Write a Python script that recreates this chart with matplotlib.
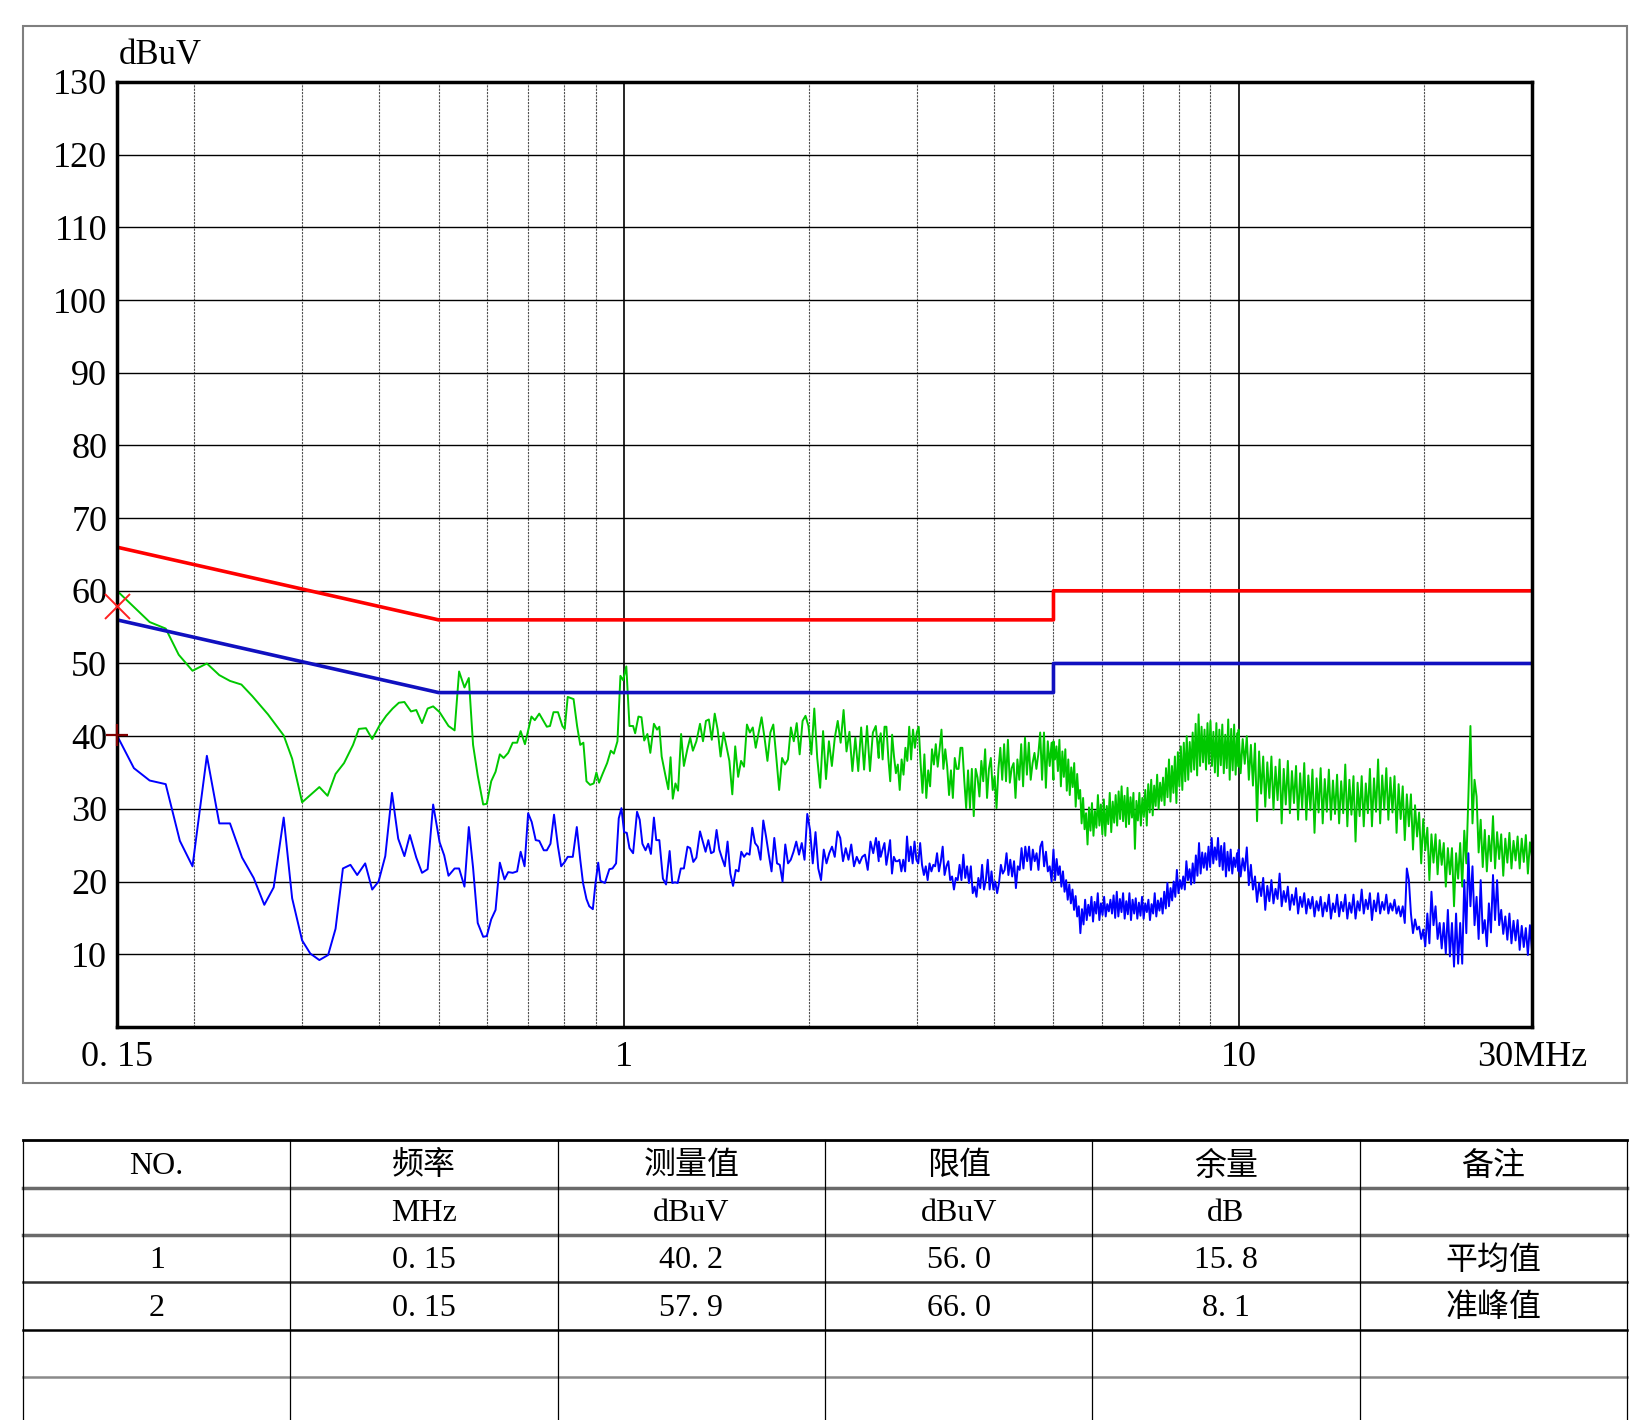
import numpy as np
import matplotlib
matplotlib.use("Agg")
import matplotlib.pyplot as plt
from matplotlib.lines import Line2D
from matplotlib.ticker import LogLocator, NullFormatter

plt.rcParams["font.family"] = ["Liberation Serif", "Noto Sans CJK SC"]

# ---- limit lines (MHz, dBuV) ----
LIMIT_FREQ = [0.15, 0.5, 5.0, 5.0, 30.0]
QP_LIMIT = [66, 56, 56, 60, 60]
AV_LIMIT = [56, 46, 46, 50, 50]

# ---- final measurement markers ----
QP_MARK = (0.15, 57.9)
AV_MARK = (0.15, 40.2)

# ---- peak (green) scan, 0.15 - 1.33 MHz, read point by point ----
PK_FREQ_LOW = [0.150, 0.1695, 0.180, 0.189, 0.199, 0.210, 0.220, 0.229, 0.239, 0.249,
               0.264, 0.280, 0.289, 0.300, 0.320, 0.330, 0.340, 0.351, 0.363, 0.371,
               0.381, 0.390, 0.401, 0.411, 0.421, 0.431, 0.440, 0.451, 0.460, 0.470,
               0.480, 0.490, 0.502, 0.519, 0.531, 0.540, 0.551, 0.560, 0.569, 0.579,
               0.591, 0.599, 0.609, 0.619, 0.629, 0.638, 0.649, 0.660, 0.671, 0.680,
               0.691, 0.708, 0.717, 0.729, 0.750, 0.759, 0.769, 0.782, 0.795, 0.802,
               0.811, 0.829, 0.840, 0.850, 0.860, 0.870, 0.882, 0.894, 0.903, 0.912,
               0.924, 0.940, 0.953, 0.964, 0.977, 0.988, 0.998, 1.010, 1.022, 1.036,
               1.044, 1.057, 1.069, 1.080, 1.093, 1.105, 1.120, 1.133, 1.143, 1.153,
               1.168, 1.182, 1.192, 1.202, 1.214, 1.226, 1.240, 1.253, 1.270, 1.283,
               1.296, 1.313, 1.331]
PK_LEVEL_LOW = [60.0, 55.7, 54.8, 51.2, 49.0, 50.0, 48.4, 47.6, 47.1, 45.5,
                43.0, 40.1, 36.9, 30.9, 33.0, 31.8, 34.8, 36.3, 38.8, 41.0,
                41.1, 39.6, 41.5, 42.8, 43.8, 44.6, 44.7, 43.4, 43.6, 41.8,
                43.8, 44.1, 43.3, 41.4, 40.8, 48.9, 46.7, 48.0, 38.8, 34.6,
                30.6, 30.7, 33.8, 35.1, 37.5, 37.0, 37.7, 39.1, 39.1, 40.7,
                38.9, 42.7, 42.2, 43.1, 41.3, 41.4, 43.3, 43.3, 41.4, 41.0,
                45.4, 45.1, 41.4, 38.8, 39.1, 33.8, 33.3, 33.5, 35.0, 33.6,
                34.8, 36.3, 38.0, 37.6, 39.3, 48.3, 47.7, 49.6, 41.4, 41.4,
                40.4, 42.7, 42.6, 39.4, 40.3, 37.7, 41.7, 40.9, 41.3, 37.2,
                34.8, 32.7, 37.1, 31.4, 33.5, 32.5, 40.3, 35.9, 38.3, 39.8,
                38.0, 39.3, 41.7]

# ---- average (blue) scan, 0.15 - 1.33 MHz ----
AV_FREQ_LOW = [0.150, 0.1598, 0.1695, 0.180, 0.1898, 0.199, 0.210, 0.220, 0.229, 0.2396,
               0.2502, 0.2604, 0.2697, 0.280, 0.289, 0.300, 0.3093, 0.320, 0.3307, 0.340,
               0.3495, 0.3595, 0.3687, 0.3799, 0.390, 0.3994, 0.4096, 0.4200, 0.4299, 0.440,
               0.4491, 0.460, 0.470, 0.480, 0.490, 0.502, 0.5107, 0.519, 0.531, 0.540,
               0.551, 0.560, 0.569, 0.579, 0.591, 0.599, 0.609, 0.619, 0.629, 0.640,
               0.649, 0.660, 0.671, 0.680, 0.690, 0.6993, 0.7087, 0.7194, 0.729, 0.7415,
               0.750, 0.7603, 0.7705, 0.782, 0.7914, 0.802, 0.811, 0.8266, 0.8391, 0.850,
               0.8589, 0.870, 0.8792, 0.8910, 0.9000, 0.9091, 0.9167, 0.9322, 0.9479, 0.9591,
               0.9720, 0.9818, 0.9917, 1.0017, 1.0118, 1.022, 1.036, 1.0514, 1.0620, 1.0727,
               1.0854, 1.0963, 1.1074, 1.120, 1.1298, 1.143, 1.1584, 1.1721, 1.1879, 1.1998,
               1.2119, 1.2242, 1.2386, 1.253, 1.270, 1.283, 1.2980, 1.313, 1.331]
AV_LEVEL_LOW = [40.1, 35.6, 33.9, 33.4, 25.6, 22.1, 37.3, 28.0, 28.0, 23.3,
                20.5, 16.8, 19.2, 28.8, 17.7, 11.9, 10.1, 9.2, 9.9, 13.5,
                21.8, 22.3, 20.9, 22.5, 18.9, 20.0, 23.5, 32.2, 25.9, 23.5,
                26.4, 23.3, 21.2, 21.7, 30.6, 25.4, 23.6, 20.8, 21.8, 21.8,
                19.3, 27.5, 21.9, 14.3, 12.4, 12.5, 14.8, 16.1, 22.6, 20.3,
                21.3, 21.2, 21.4, 24.1, 22.1, 29.4, 28.2, 25.7, 25.6, 24.3,
                24.3, 25.2, 29.2, 24.8, 22.1, 22.7, 23.4, 23.4, 27.5, 23.0,
                19.8, 17.6, 16.6, 16.2, 19.8, 22.6, 20.1, 19.8, 21.7, 21.8,
                22.5, 28.7, 30.1, 26.8, 26.7, 24.6, 23.9, 29.6, 28.5, 25.2,
                24.3, 25.2, 23.8, 28.8, 25.7, 25.7, 20.4, 19.6, 24.2, 19.8,
                19.9, 19.8, 21.8, 21.8, 24.8, 24.6, 22.7, 23.3, 26.9]

# ---- higher bands: levels read along each sweep (start MHz, stop MHz) ----
PK_BAND_1 = (1.346, 2.599)
PK_LEVEL_1 = [39.3, 42.1, 42.3, 39.5, 43.1, 40.9, 37.2, 40.5, 38.6, 36.6,
              32.0, 38.6, 34.4, 36.6, 35.8, 41.6, 40.5, 41.2, 38.4, 40.5,
              42.6, 39.8, 36.6, 40.5, 41.6, 37.2, 32.6, 37.0, 36.1, 36.8,
              41.2, 39.3, 41.8, 37.5, 42.1, 42.8, 41.4, 37.5, 43.8, 37.0,
              32.9, 40.7, 34.1, 39.3, 35.9, 39.8, 42.1, 39.1, 43.6, 37.9,
              40.6, 35.2, 39.8, 35.2, 41.2, 35.4, 41.4, 35.2, 40.5, 41.4,
              37.0]
PK_BAND_2 = (2.60, 5.0)
PK_LEVEL_2 = [38.9, 40.4, 36.8, 41.3, 41.3, 37.0, 33.8, 40.2, 37.2, 34.9,
              36.1, 32.6, 36.8, 34.7, 38.4, 36.6, 41.3, 36.8, 40.9, 38.4,
              40.5, 41.3, 36.3, 32.2, 37.5, 31.5, 35.3, 33.1, 38.2, 36.1,
              38.9, 35.8, 38.2, 40.9, 35.5, 38.2, 35.8, 31.9, 35.3, 31.5,
              37.0, 35.5, 35.5, 38.4, 38.4, 34.0, 30.1, 35.3, 30.1, 35.5,
              29.0, 35.5, 34.3, 31.7, 36.6, 33.8, 38.2, 31.5, 35.5, 37.0,
              32.6, 34.5, 30.1, 35.5, 38.4, 34.0, 38.9, 33.8, 39.5, 33.6,
              35.6, 36.3, 31.5, 36.8, 34.0, 38.9, 33.1, 39.8, 34.7, 39.1,
              34.0, 36.3, 37.7, 35.5, 37.5, 40.5, 34.0, 40.5, 32.9, 39.3,
              35.9, 39.1, 34.0]
PK_BAND_3 = (5.0, 10.0)
PK_LEVEL_3 = [39.3, 36.8, 38.6, 35.2, 39.5, 33.1, 37.9, 34.4, 38.2, 32.5,
              36.8, 31.9, 35.7, 33.0, 36.3, 30.3, 34.8, 31.4, 32.6, 28.0,
              31.5, 27.2, 29.4, 25.1, 30.2, 27.0, 30.8, 26.3, 29.7, 27.4,
              31.9, 27.7, 30.6, 26.5, 31.3, 26.3, 30.4, 27.9, 32.2, 26.8,
              31.0, 28.1, 31.9, 27.7, 32.4, 28.6, 33.1, 28.3, 31.8, 27.5,
              32.9, 27.9, 31.6, 28.8, 32.2, 24.5, 31.1, 28.4, 32.2, 27.7,
              31.5, 28.9, 32.6, 27.7, 33.4, 29.5, 34.0, 29.1, 33.2, 30.4,
              34.7, 30.0, 33.6, 31.1, 34.3, 30.5, 35.6, 31.6, 36.8, 31.0,
              35.9, 32.2, 37.2, 30.8, 37.8, 33.1, 38.6, 32.6, 39.1, 33.8,
              40.0, 34.0, 39.2, 35.1, 40.5, 35.4, 41.7, 34.6, 43.0, 35.9,
              41.3, 36.4, 40.9, 35.4, 41.8, 36.2, 42.1, 35.9, 40.6, 35.0,
              41.8, 34.5, 40.9, 36.0, 41.6, 34.9, 40.2, 35.6, 42.3, 34.0,
              41.0, 35.3, 41.6, 34.7, 40.4, 35.8]
PK_BAND_4 = (10.0, 30.0)
PK_LEVEL_4 = [40.9, 34.9, 39.6, 36.2, 40.0, 34.0, 38.8, 33.2, 39.0, 28.3,
              37.9, 32.1, 37.2, 30.3, 36.4, 31.5, 37.2, 29.9, 35.8, 31.2,
              36.8, 28.0, 35.5, 30.6, 36.6, 29.4, 35.2, 30.8, 35.9, 28.5,
              34.9, 30.1, 36.3, 28.5, 34.6, 29.8, 35.4, 26.7, 34.2, 29.5,
              35.6, 28.0, 34.1, 29.6, 35.4, 28.5, 33.9, 29.3, 34.7, 28.0,
              33.8, 29.4, 36.1, 27.6, 34.0, 29.2, 34.5, 25.5, 33.6, 29.0,
              34.5, 27.6, 33.5, 29.4, 35.5, 27.6, 34.2, 29.6, 36.8, 28.0,
              34.6, 29.9, 35.6, 28.5, 34.3, 29.5, 34.5, 26.7, 33.4, 28.6,
              33.1, 25.7, 32.0, 27.6, 32.0, 24.4, 30.5, 26.2, 29.5, 22.5,
              28.6, 24.3, 27.4, 20.2, 26.5, 22.6, 26.5, 21.0, 25.7, 22.3,
              25.3, 19.3, 24.6, 21.0, 24.6, 16.6, 23.9, 20.4, 25.3, 19.3,
              27.0, 22.5, 31.7, 41.4, 28.0, 34.0, 31.7, 24.0, 28.5, 22.0,
              27.1, 21.4, 26.3, 22.8, 29.0, 21.8, 26.8, 23.1, 26.5, 20.8,
              25.9, 22.6, 26.7, 21.8, 25.6, 22.9, 26.2, 21.8, 25.9, 22.7,
              26.4, 21.1, 25.4, 23.4]

AV_BAND_1 = (1.359, 2.599)
AV_LEVEL_1 = [24.1, 25.7, 23.9, 24.1, 27.1, 24.4, 23.2, 22.1, 25.5, 21.1,
              19.4, 21.6, 21.4, 24.1, 23.4, 23.9, 23.7, 27.4, 25.3, 24.8,
              23.0, 28.4, 26.2, 23.7, 21.4, 26.0, 22.5, 22.3, 20.0, 25.1,
              22.5, 23.0, 24.1, 25.5, 23.7, 25.3, 23.0, 29.3, 27.1, 22.5,
              26.8, 21.8, 20.2, 24.4, 22.5, 23.9, 24.8, 23.4, 26.9, 26.0,
              22.8, 24.6, 23.0, 25.1, 22.1, 23.4, 22.5, 23.4, 23.7, 21.6,
              25.5, 23.9, 26.0, 22.8]
AV_BAND_2 = (2.60, 5.0)
AV_LEVEL_2 = [25.5, 23.4, 24.4, 25.3, 22.3, 23.9, 25.7, 21.1, 23.4, 22.8,
              22.8, 23.0, 21.4, 23.0, 21.4, 26.2, 22.8, 24.8, 22.5, 25.5,
              23.0, 22.5, 25.3, 22.3, 20.9, 22.1, 20.2, 22.5, 21.4, 22.3,
              22.1, 23.9, 21.4, 22.8, 24.8, 20.9, 22.1, 22.8, 20.2, 20.7,
              18.9, 20.5, 20.2, 22.3, 20.2, 23.7, 20.5, 22.1, 19.8, 22.1,
              18.4, 19.3, 17.9, 20.5, 19.1, 22.3, 18.9, 20.2, 23.0, 18.9,
              21.4, 18.9, 20.0, 18.4, 19.8, 22.3, 21.1, 21.6, 23.9, 20.9,
              23.0, 20.7, 22.8, 19.1, 22.1, 21.6, 24.6, 21.8, 24.8, 22.8,
              24.8, 21.6, 24.4, 22.8, 23.9, 21.6, 24.8, 25.5, 22.1, 24.1,
              21.4, 22.1, 20.0, 24.3]
AV_BAND_3 = (5.0, 10.0)
AV_LEVEL_3 = [24.4, 20.2, 23.1, 20.9, 22.1, 19.3, 21.4, 18.6, 20.2, 17.5,
              19.6, 17.0, 18.9, 16.1, 18.0, 15.2, 16.6, 12.9, 16.2, 14.1,
              17.5, 14.7, 16.8, 15.3, 17.9, 14.5, 17.2, 15.6, 18.4, 14.7,
              17.0, 15.4, 17.9, 15.2, 16.9, 15.9, 17.5, 15.6, 18.1, 15.0,
              18.6, 15.2, 17.6, 15.8, 18.4, 14.9, 17.3, 15.5, 18.4, 14.7,
              17.5, 15.6, 17.7, 14.9, 17.1, 15.3, 17.9, 14.9, 17.0, 15.8,
              17.5, 14.7, 16.9, 15.6, 18.4, 15.2, 17.4, 16.0, 17.7, 15.6,
              18.6, 16.3, 19.8, 16.6, 19.1, 17.4, 20.0, 17.9, 21.6, 18.4,
              20.2, 19.0, 20.7, 18.9, 22.8, 20.2, 21.7, 19.6, 22.5, 19.8,
              23.6, 20.8, 25.3, 21.1, 24.0, 21.9, 23.9, 21.6, 24.8, 22.0,
              26.0, 22.5, 24.7, 23.0, 26.0, 22.1, 24.9, 21.6, 25.3, 20.7,
              24.1, 21.5, 24.4, 21.1, 23.3, 22.0, 23.9, 21.4]
AV_BAND_4 = (10.0, 30.0)
AV_LEVEL_4 = [24.4, 20.7, 23.2, 21.5, 24.7, 19.5, 22.3, 18.9, 20.7, 17.2,
              19.8, 18.0, 20.5, 16.1, 19.4, 17.3, 20.2, 17.0, 19.0, 17.6,
              21.1, 16.6, 18.7, 17.2, 19.3, 16.1, 18.2, 16.8, 19.1, 15.6,
              17.9, 16.5, 18.4, 15.6, 17.6, 16.3, 17.9, 15.2, 17.3, 16.0,
              17.9, 15.2, 17.1, 15.9, 18.2, 14.9, 17.0, 15.8, 18.2, 15.2,
              17.2, 15.9, 18.2, 14.9, 17.1, 15.7, 18.2, 14.9, 17.3, 16.0,
              18.9, 15.6, 17.5, 16.2, 18.4, 14.7, 17.4, 15.9, 18.4, 15.6,
              17.2, 16.1, 18.2, 15.6, 17.0, 16.0, 17.5, 15.6, 16.6, 15.2,
              16.6, 14.3, 21.8, 20.2, 15.6, 12.9, 14.8, 13.4, 13.8, 12.1,
              13.4, 11.1, 15.6, 11.5, 18.6, 14.0, 16.6, 12.1, 14.3, 10.8,
              14.3, 10.1, 16.1, 9.7, 14.3, 8.3, 15.6, 8.7, 14.3, 8.7,
              20.2, 12.9, 23.9, 16.6, 22.1, 14.0, 17.9, 12.1, 20.2, 12.9,
              14.7, 11.1, 17.0, 13.0, 20.9, 14.7, 20.2, 14.0, 16.1, 12.8,
              15.2, 12.0, 15.6, 11.5, 14.6, 11.9, 14.7, 10.6, 13.9, 11.0,
              13.6, 9.9, 14.0, 10.5]

# ---- result table ----
TABLE_HEAD = ["NO.", "频率", "测量值", "限值", "余量", "备注"]
TABLE_UNITS = ["", "MHz", "dBuV", "dBuV", "dB", ""]
TABLE_ROWS = [
    ["1", "0. 15", "40. 2", "56. 0", "15. 8", "平均值"],
    ["2", "0. 15", "57. 9", "66. 0", "8. 1", "准峰值"],
    ["", "", "", "", "", ""],
    ["", "", "", "", "", ""],
]

Y_TICKS = list(range(0, 131, 10))
X_TICKS = [0.15, 1, 10, 30]
X_LABELS = ["0. 15", "1", "10", "30MHz"]


def join_scan(freq_low, level_low, bands):
    """Stitch the point-read low band with the swept upper bands."""
    freqs = [np.asarray(freq_low, dtype=float)]
    levels = [np.asarray(level_low, dtype=float)]
    for (f0, f1), vals in bands:
        freqs.append(np.geomspace(f0, f1, len(vals)))
        levels.append(np.asarray(vals, dtype=float))
    return np.concatenate(freqs), np.concatenate(levels)


pk_f, pk_v = join_scan(PK_FREQ_LOW, PK_LEVEL_LOW,
                       [(PK_BAND_1, PK_LEVEL_1), (PK_BAND_2, PK_LEVEL_2),
                        (PK_BAND_3, PK_LEVEL_3), (PK_BAND_4, PK_LEVEL_4)])
av_f, av_v = join_scan(AV_FREQ_LOW, AV_LEVEL_LOW,
                       [(AV_BAND_1, AV_LEVEL_1), (AV_BAND_2, AV_LEVEL_2),
                        (AV_BAND_3, AV_LEVEL_3), (AV_BAND_4, AV_LEVEL_4)])

fig = plt.figure(figsize=(16.48, 14.2), dpi=100)
ax = fig.add_axes([0.0710, 0.2768, 0.8586, 0.6655])

ax.set_xscale("log")
ax.set_xlim(0.15, 30)
ax.set_ylim(0, 130)

# grid: solid horizontal lines, dotted minor verticals, solid decades
ax.set_yticks(Y_TICKS)
ax.set_yticklabels([""] + [str(v) for v in Y_TICKS[1:]])
ax.set_xticks(X_TICKS)
ax.set_xticklabels(X_LABELS)
ax.xaxis.set_minor_locator(LogLocator(base=10, subs=range(2, 10)))
ax.xaxis.set_minor_formatter(NullFormatter())
ax.grid(axis="y", which="major", color="black", lw=1.0)
ax.grid(axis="x", which="major", color="black", lw=1.2)
ax.grid(axis="x", which="minor", color="#505050", lw=0.8, linestyle=(0, (2, 1)))
ax.tick_params(axis="both", which="both", length=0, labelsize=26)
ax.tick_params(axis="y", pad=7)
ax.tick_params(axis="x", pad=10)
for sp in ax.spines.values():
    sp.set_linewidth(2.5)
    sp.set_zorder(5)

# traces
ax.plot(pk_f, pk_v, color="#00C800", lw=1.4, zorder=2)
ax.plot(av_f, av_v, color="#0000FF", lw=1.4, zorder=2)

# limits
ax.plot(LIMIT_FREQ, QP_LIMIT, color="#FF0000", lw=2.6, zorder=3)
ax.plot(LIMIT_FREQ, AV_LIMIT, color="#1010C0", lw=2.6, zorder=3)

# final markers
ax.plot(*QP_MARK, marker="x", color="#FF2020", markersize=18, mew=1.4,
        clip_on=False, zorder=6)
ax.plot(*AV_MARK, marker="+", color="#800000", markersize=16, mew=1.6,
        clip_on=False, zorder=6)

fig.text(0.0722, 0.9606, "dBuV", ha="left", va="center", fontsize=25)

# outer frame around the plot area
fig.add_artist(plt.Rectangle((0.014, 0.2376), 0.9732, 0.7439, fill=False,
                             ec="#7f7f7f", lw=1.5, transform=fig.transFigure))

# table below
x0, x1 = 0.014, 0.9872
col_w = (x1 - x0) / 6
top = 0.1969
row_h = 0.0333
line_styles = [("black", 2.0), ("#6a6a6a", 2.5), ("#6a6a6a", 2.5),
               ("#303030", 1.8), ("black", 1.8), ("#8a8a8a", 1.8)]
for i, (col, lw) in enumerate(line_styles):
    y = top - i * row_h
    fig.add_artist(Line2D([x0, x1], [y, y], color=col, lw=lw,
                          transform=fig.transFigure))
for i in range(7):
    x = x0 + i * col_w
    fig.add_artist(Line2D([x, x], [top, 0.0], color="black", lw=0.9,
                          transform=fig.transFigure))

rows = [TABLE_HEAD, TABLE_UNITS] + TABLE_ROWS
for r, row in enumerate(rows):
    yc = top - (r + 0.55) * row_h
    for c, txt in enumerate(row):
        if txt:
            fig.text(x0 + (c + 0.5) * col_w, yc, txt, ha="center",
                     va="center", fontsize=23)

fig.savefig("out.png", dpi=100)
